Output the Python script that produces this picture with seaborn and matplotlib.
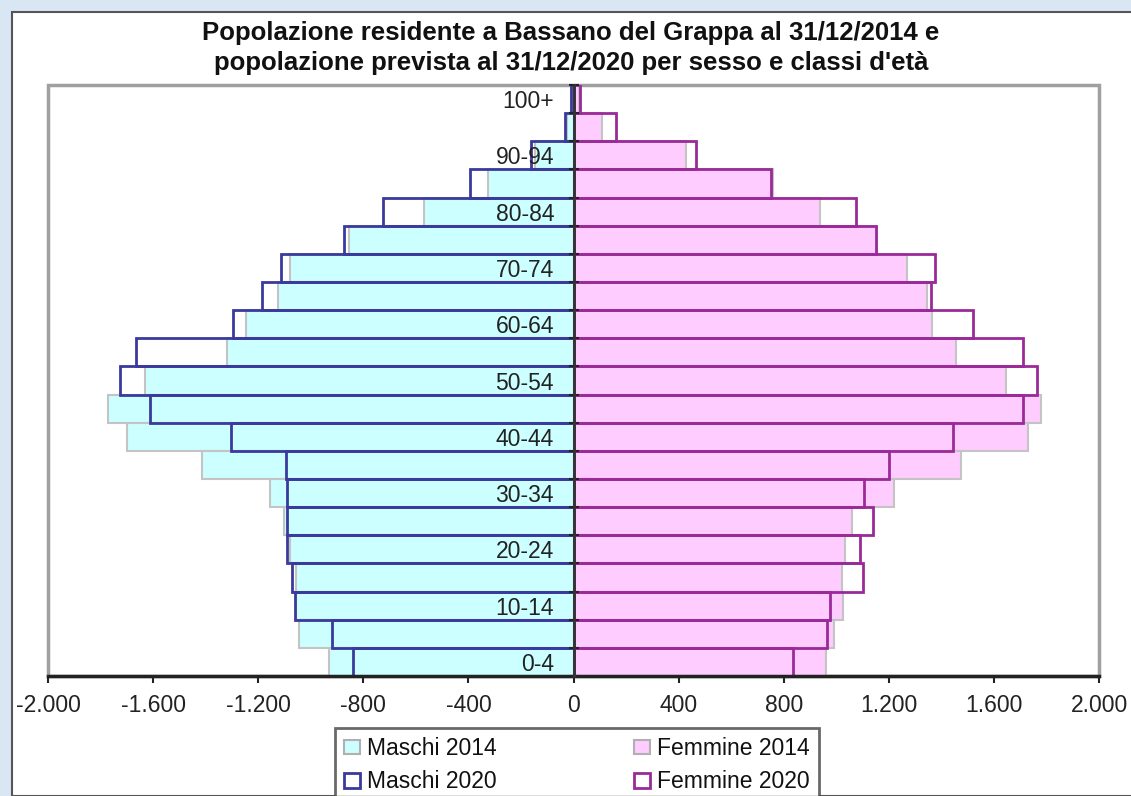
import numpy as np
import matplotlib.pyplot as plt
import seaborn as sns
from matplotlib.patches import Rectangle, Patch
from matplotlib.ticker import FixedLocator

# --- Data ---
ages = ["0-4", "5-9", "10-14", "15-19", "20-24", "25-29", "30-34", "35-39",
        "40-44", "45-49", "50-54", "55-59", "60-64", "65-69", "70-74",
        "75-79", "80-84", "85-89", "90-94", "95-99", "100+"]

maschi_2014 = [-930, -1045, -1055, -1055, -1080, -1100, -1155, -1415, -1700, -1770,
               -1630, -1320, -1245, -1125, -1080, -855, -570, -325, -145, -25, -10]
maschi_2020 = [-840, -920, -1060, -1070, -1090, -1090, -1090, -1095, -1305, -1610,
               -1725, -1665, -1295, -1185, -1115, -875, -725, -395, -160, -33, -10]
femmine_2014 = [960, 990, 1025, 1020, 1035, 1060, 1220, 1475, 1730, 1780,
                1645, 1455, 1365, 1345, 1270, 1155, 940, 758, 430, 110, 20]
femmine_2020 = [835, 965, 975, 1100, 1090, 1140, 1105, 1200, 1445, 1710,
                1765, 1710, 1520, 1360, 1375, 1150, 1075, 752, 465, 160, 25]

x_ticks = [-2000, -1600, -1200, -800, -400, 0, 400, 800, 1200, 1600, 2000]
x_labels = ["-2.000", "-1.600", "-1.200", "-800", "-400", "0", "400", "800",
            "1.200", "1.600", "2.000"]

title = ("Popolazione residente a Bassano del Grappa al 31/12/2014 e\n"
         "popolazione prevista al 31/12/2020 per sesso e classi d'età")

# --- Style ---
sns.set_style("white")
plt.rcParams["font.family"] = ["Liberation Sans", "DejaVu Sans"]

c_m14, c_f14 = "#ccffff", "#ffccff"
c_m20, c_f20 = "#3a3a9c", "#9a2a98"
c_shadow = "#c4c4c4"

fig = plt.figure(figsize=(11.31, 7.96), dpi=100, facecolor="#d9e6f3")
fig.patches.append(Rectangle((12 / 1131, 0), 1, 1 - 12 / 796, transform=fig.transFigure,
                             facecolor="white", edgecolor="#555555", lw=1.5, zorder=-5))

ax = fig.add_axes([48 / 1131, 1 - 676 / 796, (1099 - 48) / 1131, (676 - 85) / 796])

order = ages[::-1]  # 100+ on top

# 2014: filled bars
sns.barplot(x=maschi_2014, y=ages, order=order, orient="y", color=c_m14, saturation=1,
            edgecolor=c_shadow, linewidth=1.5, width=1.0, ax=ax)
sns.barplot(x=femmine_2014, y=ages, order=order, orient="y", color=c_f14, saturation=1,
            edgecolor=c_shadow, linewidth=1.5, width=1.0, ax=ax)
# 2020: outlines only
sns.barplot(x=maschi_2020, y=ages, order=order, orient="y", color=c_m20, saturation=1,
            fill=False, linewidth=2, width=1.0, ax=ax)
sns.barplot(x=femmine_2020, y=ages, order=order, orient="y", color=c_f20, saturation=1,
            fill=False, linewidth=2, width=1.0, ax=ax)

ax.set_axisbelow(False)
ax.set_xlim(-2000, 2000)
ax.set_ylim(len(ages) - 0.5, -0.5)
ax.set_xticks(x_ticks)
ax.set_xticklabels(x_labels)
ax.set_yticks(range(len(order)))
ax.set_yticklabels([lab if j % 2 == 0 else "" for j, lab in enumerate(order)])
ax.set_xlabel("")
ax.set_ylabel("")

# frame and axes lines
ax.patch.set_edgecolor("#a0a0a0")
ax.patch.set_linewidth(2.5)
for s in ["top", "right"]:
    ax.spines[s].set_visible(False)
ax.spines["left"].set_position(("data", 0))
ax.spines["left"].set_color("#333333")
ax.spines["left"].set_linewidth(2)
ax.spines["left"].set_zorder(5)
ax.spines["bottom"].set_color("#222222")
ax.spines["bottom"].set_linewidth(2.5)

ax.tick_params(axis="x", direction="out", length=5, width=1.5, color="#222222", pad=8,
               bottom=True, labelsize=16.5, labelcolor="#222222")
ax.tick_params(axis="y", which="major", length=0, pad=14, left=True,
               labelsize=16.5, labelcolor="#222222")
ax.yaxis.set_minor_locator(FixedLocator(np.arange(-0.5, len(ages), 1)))
ax.tick_params(axis="y", which="minor", direction="inout", length=7, width=1.5,
               color="#222222", left=True)

fig.text(571 / 1131, 1 - 48 / 796, title, ha="center", va="center", fontsize=18.5,
         fontweight="bold", linespacing=1.35, color="#111111")

handles = [Patch(facecolor=c_m14, edgecolor="#b0b0b0", lw=1.5),
           Patch(facecolor="white", edgecolor=c_m20, lw=2),
           Patch(facecolor=c_f14, edgecolor="#b0b0b0", lw=1.5),
           Patch(facecolor="white", edgecolor=c_f20, lw=2)]
labels = ["Maschi 2014", "Maschi 2020", "Femmine 2014", "Femmine 2020"]
leg = fig.legend(handles, labels, ncol=2, loc="upper center",
                 bbox_to_anchor=(577 / 1131, 1 - 728 / 796), borderaxespad=0,
                 fontsize=16.5, frameon=True, fancybox=False, edgecolor="#444444",
                 handlelength=0.7, handleheight=0.6, handletextpad=0.3,
                 columnspacing=6.0, borderpad=0.4, labelspacing=0.45)
leg.get_frame().set_linewidth(2)
for t in leg.get_texts():
    t.set_color("#111111")

fig.savefig("out.png", dpi=100, facecolor=fig.get_facecolor())
